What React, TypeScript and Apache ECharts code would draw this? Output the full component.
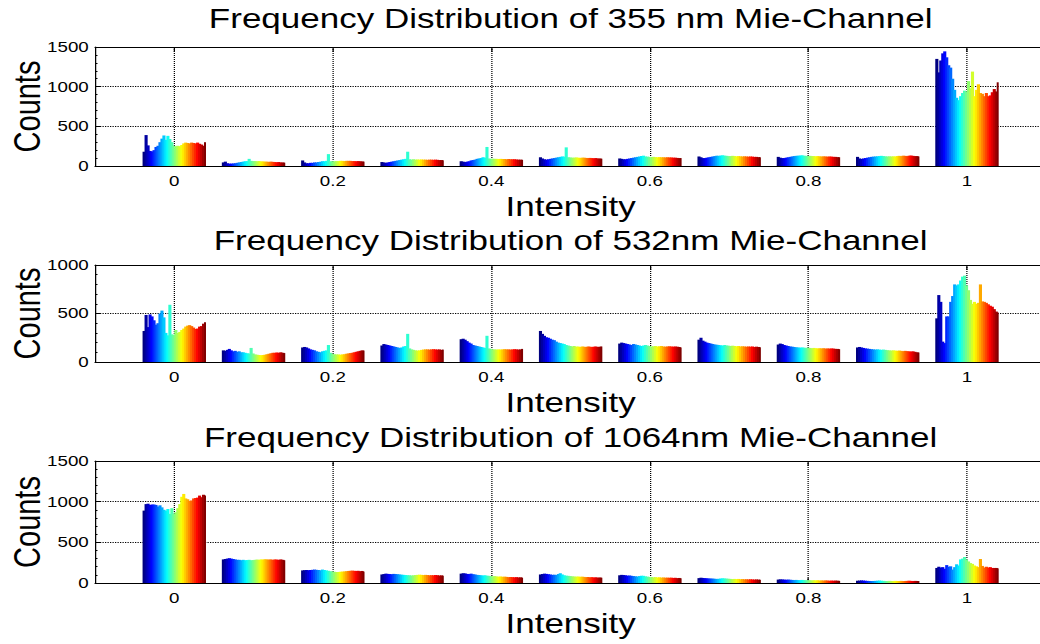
import React, { useEffect, useRef } from "react";
import * as echarts from "echarts";

// Histogram bin centres (normalised intensity)
const INTENSITY_BINS = [0, 0.1, 0.2, 0.3, 0.4, 0.5, 0.6, 0.7, 0.8, 0.9, 1.0];
const X_TICKS = [0, 0.2, 0.4, 0.6, 0.8, 1];

// Counts per bin, one row per bin, one value per profile column
const COUNTS_355 = [
  [180, 390, 260, 190, 185, 200, 240, 255, 300, 345, 385, 330, 380, 340, 300, 255, 250, 255, 250, 265, 285, 295, 290, 285, 295, 290, 285, 295, 280, 270, 255, 300],
  [45, 55, 35, 30, 30, 32, 35, 40, 45, 50, 55, 60, 62, 90, 65, 62, 62, 60, 62, 58, 58, 55, 55, 52, 55, 52, 50, 48, 50, 45, 45, 42],
  [70, 45, 35, 35, 40, 40, 45, 45, 50, 55, 60, 60, 65, 150, 60, 60, 60, 62, 62, 65, 65, 62, 65, 65, 65, 62, 62, 60, 62, 60, 58, 55],
  [50, 45, 40, 45, 50, 55, 60, 65, 70, 75, 80, 85, 90, 180, 85, 80, 85, 80, 82, 80, 82, 80, 80, 78, 80, 80, 78, 80, 78, 75, 75, 72],
  [60, 55, 50, 55, 60, 70, 75, 80, 90, 95, 100, 110, 105, 240, 95, 90, 92, 90, 90, 88, 90, 88, 88, 85, 88, 85, 85, 85, 82, 80, 80, 78],
  [110, 95, 85, 80, 85, 90, 95, 100, 105, 110, 115, 120, 118, 235, 110, 108, 105, 105, 108, 105, 102, 105, 105, 102, 100, 102, 100, 98, 100, 95, 95, 92],
  [95, 90, 85, 85, 90, 95, 100, 105, 110, 115, 120, 125, 130, 120, 118, 115, 112, 115, 112, 110, 112, 110, 110, 108, 110, 108, 108, 105, 105, 102, 100, 100],
  [120, 110, 100, 100, 105, 110, 115, 120, 125, 130, 128, 132, 135, 130, 128, 125, 125, 128, 125, 122, 125, 122, 120, 122, 120, 118, 120, 118, 115, 115, 112, 110],
  [115, 105, 100, 100, 105, 110, 115, 120, 125, 128, 130, 132, 135, 130, 128, 125, 128, 125, 125, 122, 125, 122, 120, 122, 120, 118, 120, 118, 115, 115, 112, 110],
  [115, 95, 90, 95, 100, 105, 110, 115, 118, 120, 122, 125, 128, 125, 122, 120, 122, 120, 122, 120, 125, 128, 125, 130, 128, 125, 130, 132, 128, 125, 125, 120],
  [1350, 1180, 1330, 1420, 1445, 1370, 1270, 1240, 1100, 960, 860, 830, 880, 920, 950, 940, 1070, 980, 1190, 880, 960, 1030, 920, 910, 880, 920, 880, 890, 930, 970, 940, 1055],
];

const COUNTS_532 = [
  [320, 485, 360, 490, 470, 430, 385, 400, 500, 530, 460, 300, 275, 590, 285, 280, 330, 300, 310, 330, 345, 365, 375, 380, 370, 355, 340, 345, 365, 370, 395, 410],
  [120, 115, 125, 135, 120, 110, 115, 105, 110, 100, 100, 95, 90, 88, 145, 88, 78, 75, 72, 70, 72, 75, 80, 85, 90, 95, 95, 98, 95, 100, 95, 92],
  [150, 155, 150, 140, 130, 125, 120, 110, 105, 100, 110, 115, 120, 175, 95, 85, 80, 78, 78, 75, 78, 80, 85, 88, 92, 95, 100, 105, 110, 115, 120, 118],
  [170, 185, 180, 175, 170, 165, 160, 155, 150, 145, 150, 160, 165, 290, 140, 130, 125, 120, 118, 120, 125, 128, 130, 130, 128, 130, 132, 130, 128, 130, 125, 128],
  [235, 240, 230, 215, 200, 190, 175, 170, 165, 160, 155, 150, 145, 270, 140, 135, 130, 130, 128, 130, 128, 130, 132, 130, 130, 128, 130, 132, 130, 128, 130, 135],
  [320, 290, 270, 255, 250, 240, 230, 225, 210, 200, 195, 190, 185, 175, 170, 165, 160, 165, 158, 160, 155, 160, 158, 155, 160, 158, 155, 158, 160, 155, 158, 160],
  [190, 200, 195, 190, 185, 180, 175, 185, 180, 175, 170, 165, 170, 175, 170, 165, 160, 162, 165, 160, 162, 165, 160, 158, 160, 162, 160, 158, 160, 158, 155, 150],
  [230, 250, 220, 210, 200, 195, 190, 185, 180, 178, 175, 172, 170, 175, 170, 168, 165, 168, 165, 162, 165, 160, 162, 160, 158, 160, 158, 160, 155, 158, 155, 152],
  [180, 190, 185, 175, 170, 165, 160, 158, 155, 152, 150, 148, 150, 148, 145, 148, 145, 142, 145, 142, 140, 142, 140, 142, 138, 140, 138, 140, 138, 135, 135, 132],
  [150, 155, 150, 145, 140, 138, 135, 132, 130, 128, 130, 128, 125, 128, 125, 122, 120, 118, 120, 118, 115, 118, 115, 112, 115, 112, 110, 108, 110, 105, 100, 98],
  [450, 690, 620, 210, 195, 470, 470, 620, 680, 800, 790, 800, 840, 880, 890, 790, 740, 640, 600, 620, 600, 610, 800, 625, 620, 610, 595, 580, 570, 545, 520, 510],
];

const COUNTS_1064 = [
  [890, 970, 975, 960, 965, 965, 960, 940, 955, 930, 900, 890, 910, 850, 920, 850, 870, 920, 970, 1060, 1095, 1040, 1030, 1010, 1015, 1040, 1045, 1050, 1075, 1055, 1085, 1075],
  [290, 295, 300, 305, 300, 295, 290, 285, 285, 280, 285, 280, 282, 285, 280, 282, 285, 288, 285, 290, 288, 292, 290, 288, 290, 285, 290, 288, 285, 290, 285, 280],
  [155, 158, 160, 158, 160, 162, 165, 162, 160, 158, 165, 160, 155, 150, 145, 140, 138, 135, 135, 138, 140, 142, 145, 148, 150, 152, 150, 148, 150, 145, 148, 140],
  [105, 110, 115, 112, 110, 108, 112, 110, 108, 105, 102, 100, 98, 96, 95, 92, 95, 98, 100, 102, 100, 98, 100, 98, 95, 96, 95, 98, 96, 92, 94, 90],
  [115, 120, 118, 112, 110, 115, 108, 105, 100, 98, 95, 92, 95, 90, 88, 85, 82, 85, 80, 78, 80, 76, 78, 75, 72, 74, 72, 70, 72, 68, 70, 65],
  [105, 110, 115, 112, 108, 105, 100, 102, 98, 110, 120, 105, 95, 90, 88, 85, 82, 80, 78, 80, 76, 78, 75, 72, 74, 70, 72, 68, 70, 66, 68, 65],
  [95, 100, 98, 95, 90, 92, 88, 85, 82, 80, 85, 90, 88, 82, 78, 75, 72, 70, 72, 68, 70, 66, 68, 65, 66, 64, 66, 62, 64, 60, 62, 58],
  [60, 65, 62, 60, 58, 56, 55, 54, 52, 50, 52, 55, 58, 56, 54, 52, 50, 48, 50, 48, 50, 46, 48, 45, 46, 44, 46, 44, 42, 44, 42, 40],
  [42, 45, 44, 42, 40, 42, 40, 38, 36, 38, 36, 35, 38, 36, 34, 35, 34, 32, 34, 32, 34, 30, 32, 30, 32, 30, 28, 30, 28, 30, 28, 26],
  [28, 30, 32, 30, 28, 26, 25, 24, 25, 26, 28, 30, 28, 26, 25, 24, 26, 25, 24, 26, 25, 24, 26, 24, 25, 26, 28, 26, 24, 26, 25, 24],
  [185, 200, 190, 195, 175, 220, 200, 205, 165, 195, 230, 215, 290, 300, 320, 290, 265, 245, 235, 215, 205, 195, 295, 210, 190, 200, 190, 195, 185, 185, 185, 180],
];

const PANEL_TITLES = [
  "Frequency Distribution of 355 nm Mie-Channel",
  "Frequency Distribution of 532nm Mie-Channel",
  "Frequency Distribution of 1064nm Mie-Channel",
];
const PANEL_COUNTS = [COUNTS_355, COUNTS_532, COUNTS_1064];
const PANEL_Y_MAX = [1500, 1000, 1500];

// Layout (drawn on a narrower canvas, then stretched horizontally)
const STRETCH = 1.25;
const CANVAS_W = 840;
const CANVAS_H = 644;
const GRID_LEFT = 76;
const GRID_W = 761;
const GRID_TOPS = [47, 265, 461];
const GRID_HEIGHTS = [119, 97, 122];
const TITLE_Y = [18, 240, 437];

const FONT = "Liberation Sans, Arial, sans-serif";
const GROUP_WIDTH = 0.08;

// MATLAB-style jet colormap
function jet(t: number): string {
  const c = (v: number) => Math.round(255 * Math.min(1, Math.max(0, v)));
  const r = c(1.5 - Math.abs(4 * t - 3));
  const g = c(1.5 - Math.abs(4 * t - 2));
  const b = c(1.5 - Math.abs(4 * t - 1));
  return `rgb(${r},${g},${b})`;
}

function buildOption() {
  const grid: any[] = [];
  const xAxis: any[] = [];
  const yAxis: any[] = [];
  const series: any[] = [];
  const graphic: any[] = [];

  const axisLine = { show: true, onZero: false, lineStyle: { color: "#000", width: 1 } };
  const splitLine = { show: true, lineStyle: { color: "#000", type: "dotted", width: 1 } };
  const plainNumber = (v: number) => String(v);

  PANEL_COUNTS.forEach((counts, p) => {
    grid.push({
      left: GRID_LEFT,
      top: GRID_TOPS[p],
      width: GRID_W,
      height: GRID_HEIGHTS[p],
      containLabel: false,
      outerBoundsMode: "none",
    });

    // bottom x axis with labels and grid lines
    xAxis.push({
      type: "value",
      gridIndex: p,
      min: -0.1,
      max: 1.1,
      name: "Intensity",
      nameLocation: "middle",
      nameGap: 26,
      nameMoveOverlap: false,
      nameTextStyle: { fontFamily: FONT, fontSize: 28, color: "#000" },
      axisLine,
      axisTick: { show: true, inside: true, length: 5, lineStyle: { color: "#000" }, customValues: X_TICKS },
      axisLabel: { show: true, customValues: X_TICKS, margin: 8, fontFamily: FONT, fontSize: 15, color: "#000", formatter: plainNumber },
      splitLine,
    });
    // left y axis
    yAxis.push({
      type: "value",
      gridIndex: p,
      min: 0,
      max: PANEL_Y_MAX[p],
      interval: 500,
      name: "Counts",
      nameLocation: "middle",
      nameRotate: 90,
      nameGap: 40,
      nameMoveOverlap: false,
      nameTextStyle: { fontFamily: FONT, fontSize: 29, color: "#000" },
      axisLine,
      axisTick: { show: true, inside: true, length: 4, lineStyle: { color: "#000" } },
      minorTick: { show: true, splitNumber: 5, length: 2, lineStyle: { color: "#000" } },
      axisLabel: { show: true, margin: 5, fontFamily: FONT, fontSize: 15, color: "#000", formatter: plainNumber },
      splitLine,
    });

    const cols = counts[0].length;
    const data: number[][] = [];
    counts.forEach((row, g) => row.forEach((v, c) => data.push([INTENSITY_BINS[g], v, c])));

    series.push({
      type: "custom",
      xAxisIndex: p,
      yAxisIndex: p,
      z: 3,
      encode: { x: 0, y: 1 },
      data,
      renderItem: (_params: any, api: any) => {
        const center = api.value(0);
        const v = api.value(1);
        const c = api.value(2);
        const w = GROUP_WIDTH / cols;
        const x0 = center - GROUP_WIDTH / 2 + c * w;
        const top = api.coord([x0, v]);
        const base = api.coord([x0 + w, 0]);
        const overlap = c < cols - 1 ? 0.9 : 0;
        return {
          type: "rect",
          shape: { x: top[0], y: top[1], width: base[0] - top[0] + overlap, height: base[1] - top[1] },
          style: { fill: jet(c / (cols - 1)) },
        };
      },
    });

    graphic.push({
      type: "text",
      x: GRID_LEFT + GRID_W / 2,
      y: TITLE_Y[p],
      style: {
        text: PANEL_TITLES[p],
        font: `28px ${FONT}`,
        fill: "#000",
        align: "center",
        verticalAlign: "middle",
      },
    });
  });

  // top and right axes close the box
  PANEL_COUNTS.forEach((_c, p) => {
    xAxis.push({
      type: "value",
      gridIndex: p,
      position: "top",
      min: -0.1,
      max: 1.1,
      axisLine,
      axisTick: { show: true, inside: true, length: 5, lineStyle: { color: "#000" }, customValues: X_TICKS },
      axisLabel: { show: false, customValues: X_TICKS },
      splitLine: { show: false },
    });
    yAxis.push({
      type: "value",
      gridIndex: p,
      position: "right",
      min: 0,
      max: PANEL_Y_MAX[p],
      interval: 500,
      axisLine,
      axisTick: { show: true, inside: true, length: 4, lineStyle: { color: "#000" } },
      minorTick: { show: true, splitNumber: 5, length: 2, lineStyle: { color: "#000" } },
      axisLabel: { show: false },
      splitLine: { show: false },
    });
  });

  return {
    animation: false,
    backgroundColor: "#fff",
    grid,
    xAxis,
    yAxis,
    series,
    graphic,
  };
}

export default function App() {
  const ref = useRef<HTMLDivElement>(null);

  useEffect(() => {
    if (!ref.current) return;
    const chart = echarts.init(ref.current, undefined, { renderer: "svg" });
    chart.setOption(buildOption() as any);
    return () => chart.dispose();
  }, []);

  return (
    <div
      style={{
        position: "absolute",
        left: 0,
        top: 0,
        width: 1040,
        height: CANVAS_H,
        overflow: "hidden",
        background: "#fff",
      }}
    >
      <div
        ref={ref}
        style={{
          width: CANVAS_W,
          height: CANVAS_H,
          transform: `scaleX(${STRETCH})`,
          transformOrigin: "0 0",
        }}
      />
    </div>
  );
}
